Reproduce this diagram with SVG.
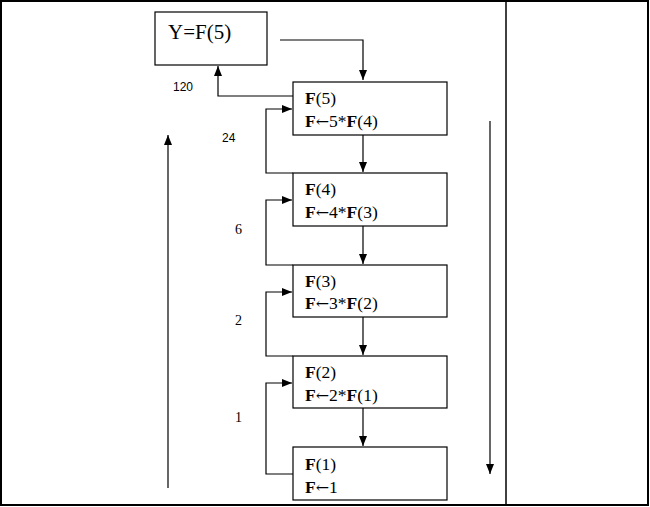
<svg xmlns="http://www.w3.org/2000/svg" width="650" height="507" viewBox="0 0 650 507">
<style>
.box{fill:#fff;stroke:#000;stroke-width:1.2}
.ln{fill:none;stroke:#000;stroke-width:1.2}
.t{font-family:"Liberation Serif","Times New Roman",serif;font-size:17.5px;fill:#000}
.ty{font-family:"Liberation Serif","Times New Roman",serif;font-size:21px;fill:#000}
.b{font-weight:bold}
.ar{font-family:"DejaVu Serif",serif;font-size:16px}
.lab{font-family:"Liberation Sans",Arial,sans-serif;font-size:12px;fill:#000}
.labs{font-family:"Liberation Serif","Times New Roman",serif;font-size:14px;fill:#000}
</style>
<defs>
<marker id="ah" viewBox="0 0 10 10" refX="10" refY="5" markerWidth="10" markerHeight="10" markerUnits="userSpaceOnUse" orient="auto">
<path d="M0,1 L10,5 L0,9 Z" fill="#000"/>
</marker>
</defs>
<rect x="0" y="0" width="650" height="507" fill="#fff"/>
<g id="frame">
<rect x="1" y="1" width="647" height="504" fill="none" stroke="#000" stroke-width="2"/>
<line x1="506" y1="1" x2="506" y2="505" stroke="#000" stroke-width="1.5"/>
</g>
<g id="connectors">
<polyline class="ln" points="280,40 363,40 363,80" marker-end="url(#ah)"/>
<polyline class="ln" points="293,96 218,96 218,66" marker-end="url(#ah)"/>
<line class="ln" x1="363" y1="135" x2="363" y2="172" marker-end="url(#ah)"/>
<line class="ln" x1="363" y1="226" x2="363" y2="264" marker-end="url(#ah)"/>
<line class="ln" x1="363" y1="317" x2="363" y2="355" marker-end="url(#ah)"/>
<line class="ln" x1="363" y1="408" x2="363" y2="446" marker-end="url(#ah)"/>
<polyline class="ln" points="293,173 266,173 266,109 292,109" marker-end="url(#ah)"/>
<polyline class="ln" points="293,265 266,265 266,200 292,200" marker-end="url(#ah)"/>
<polyline class="ln" points="293,356 266,356 266,292 292,292" marker-end="url(#ah)"/>
<polyline class="ln" points="293,474 266,474 266,383 292,383" marker-end="url(#ah)"/>
<line class="ln" x1="168" y1="488" x2="168" y2="135" marker-end="url(#ah)"/>
<line class="ln" x1="490" y1="121" x2="490" y2="474" marker-end="url(#ah)"/>
</g>
<g id="nodeY">
<rect class="box" x="155" y="12" width="112" height="53"/>
<text class="ty" x="168" y="39">Y=F(5)</text>
</g>
<g id="nodeF5">
<rect class="box" x="293" y="82" width="154" height="53"/>
<text class="t" x="305" y="104"><tspan class="b">F</tspan>(5)</text>
<text class="t" x="305" y="127"><tspan class="b">F</tspan><tspan class="ar">←</tspan>5*<tspan class="b">F</tspan>(4)</text>
</g>
<g id="nodeF4">
<rect class="box" x="293" y="173" width="154" height="53"/>
<text class="t" x="305" y="195"><tspan class="b">F</tspan>(4)</text>
<text class="t" x="305" y="218"><tspan class="b">F</tspan><tspan class="ar">←</tspan>4*<tspan class="b">F</tspan>(3)</text>
</g>
<g id="nodeF3">
<rect class="box" x="293" y="265" width="154" height="52"/>
<text class="t" x="305" y="287"><tspan class="b">F</tspan>(3)</text>
<text class="t" x="305" y="309"><tspan class="b">F</tspan><tspan class="ar">←</tspan>3*<tspan class="b">F</tspan>(2)</text>
</g>
<g id="nodeF2">
<rect class="box" x="293" y="356" width="154" height="52"/>
<text class="t" x="305" y="378"><tspan class="b">F</tspan>(2)</text>
<text class="t" x="305" y="401"><tspan class="b">F</tspan><tspan class="ar">←</tspan>2*<tspan class="b">F</tspan>(1)</text>
</g>
<g id="nodeF1">
<rect class="box" x="293" y="447" width="154" height="53"/>
<text class="t" x="305" y="470"><tspan class="b">F</tspan>(1)</text>
<text class="t" x="305" y="493"><tspan class="b">F</tspan><tspan class="ar">←</tspan>1</text>
</g>
<g id="labels">
<text class="lab" x="173" y="91">120</text>
<text class="lab" x="222" y="142">24</text>
<text class="labs" x="235" y="234">6</text>
<text class="labs" x="235" y="325">2</text>
<text class="labs" x="235" y="422">1</text>
</g>
</svg>
